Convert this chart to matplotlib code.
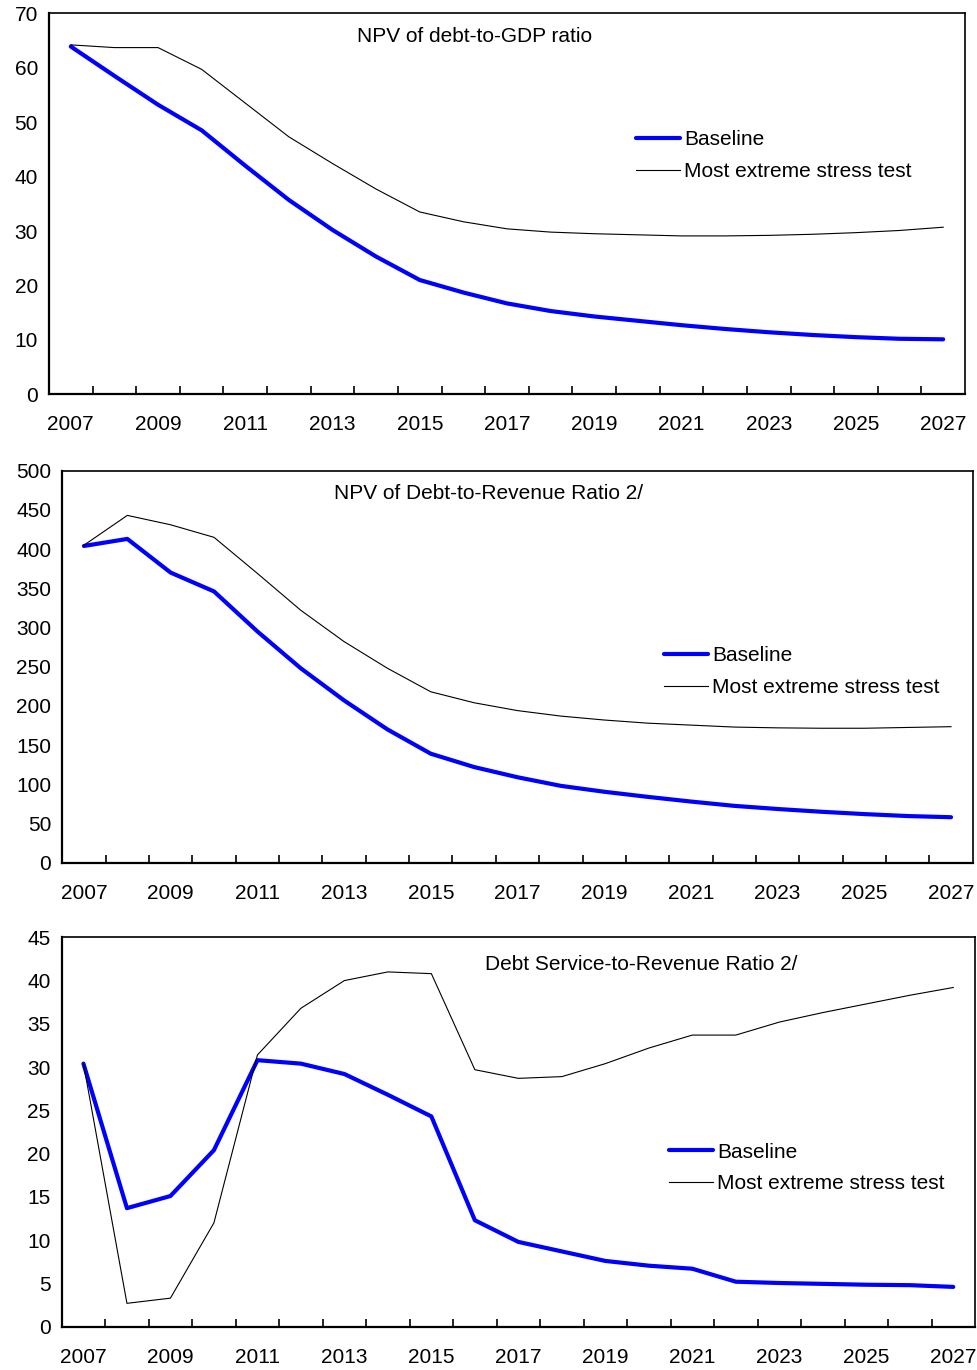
import matplotlib
matplotlib.use("Agg")
import matplotlib.pyplot as plt
import numpy as np

plt.rcParams['font.family'] = ['Liberation Sans', 'DejaVu Sans']

years = list(range(2007, 2028))
year_labels = [str(y) if (y - 2007) % 2 == 0 else "" for y in years]

# Panel 1: NPV of debt-to-GDP ratio
p1_base = [63.9, 58.5, 53.2, 48.5, 42.0, 35.7, 30.2, 25.3, 21.0, 18.7, 16.7,
           15.3, 14.3, 13.5, 12.7, 12.0, 11.4, 10.9, 10.5, 10.2, 10.1]
p1_stress = [64.2, 63.7, 63.7, 59.7, 53.5, 47.3, 42.4, 37.7, 33.5, 31.7, 30.4,
             29.8, 29.5, 29.3, 29.1, 29.1, 29.2, 29.4, 29.7, 30.1, 30.7]

# Panel 2: NPV of Debt-to-Revenue Ratio
p2_base = [404, 413, 370, 346, 295, 248, 207, 170, 139, 122, 109,
           98, 90.5, 84, 78, 72.5, 68.5, 65, 62, 59.5, 58]
p2_stress = [405, 443, 431, 415, 369, 322, 282, 248, 218, 204, 194,
             187, 182, 178, 175.5, 173, 172, 171.5, 171.5, 172.5, 173.5]

# Panel 3: Debt Service-to-Revenue Ratio
p3_base = [30.4, 13.7, 15.1, 20.4, 30.8, 30.4, 29.2, 26.8, 24.3, 12.3, 9.8,
           8.7, 7.6, 7.05, 6.7, 5.2, 5.05, 4.95, 4.85, 4.8, 4.6]
p3_stress = [30.4, 2.7, 3.3, 12.0, 31.4, 36.8, 40.0, 41.0, 40.8, 29.7, 28.7,
             28.9, 30.4, 32.2, 33.7, 33.7, 35.2, 36.3, 37.3, 38.3, 39.2]

titles = ["NPV of debt-to-GDP ratio",
          "NPV of Debt-to-Revenue Ratio 2/",
          "Debt Service-to-Revenue Ratio 2/"]
series_names = ["Baseline", "Most extreme stress test"]

W, H = 977, 1370
fig = plt.figure(figsize=(W / 100, H / 100), dpi=100)

def rect(l, r, t, b):
    return [l / W, 1 - b / H, (r - l) / W, (b - t) / H]

panels = [
    dict(rect=rect(49, 965, 13.3, 394.3), base=p1_base, stress=p1_stress,
         ymax=70, ystep=10, title=titles[0], tpos=(0.465, 0.940),
         lpos=(0.641, 0.627)),
    dict(rect=rect(62.3, 972.7, 470.7, 862.7), base=p2_base, stress=p2_stress,
         ymax=500, ystep=50, title=titles[1], tpos=(0.468, 0.9406),
         lpos=(0.661, 0.488)),
    dict(rect=rect(61.7, 975, 937.3, 1326.7), base=p3_base, stress=p3_stress,
         ymax=45, ystep=5, title=titles[2], tpos=(0.634, 0.9314),
         lpos=(0.665, 0.4075)),
]

x = np.arange(len(years))
for p in panels:
    ax = fig.add_axes(p['rect'])
    ax.plot(x, p['base'], color='#0000FF', lw=3.0, label=series_names[0],
            solid_joinstyle='round', solid_capstyle='round')
    ax.plot(x, p['stress'], color='black', lw=0.8, label=series_names[1])
    ax.set_xlim(-0.5, len(years) - 0.5)
    ax.set_ylim(0, p['ymax'])
    ax.set_yticks(np.arange(0, p['ymax'] + 0.1, p['ystep']))
    ax.tick_params(axis='y', length=0, pad=8, labelsize=15)
    ax.set_xticks(x)
    ax.set_xticklabels(year_labels)
    ax.set_xticks(np.arange(0.5, len(years) - 1, 1.0), minor=True)
    ax.tick_params(axis='x', which='major', length=0, pad=15, labelsize=15)
    ax.tick_params(axis='x', which='minor', direction='in', length=5.5,
                   width=1.2, color='black')
    for s in ['left', 'bottom']:
        ax.spines[s].set_linewidth(1.6)
    for s in ['top', 'right']:
        ax.spines[s].set_linewidth(1.2)
    ax.text(p['tpos'][0], p['tpos'][1], p['title'], transform=ax.transAxes,
            ha='center', va='center', fontsize=15)
    ax.legend(loc='center left', bbox_to_anchor=p['lpos'], frameon=False,
              fontsize=15, handlelength=2.1, handletextpad=0.2,
              borderpad=0, borderaxespad=0, labelspacing=0.62)

fig.savefig("out.png", dpi=100)
